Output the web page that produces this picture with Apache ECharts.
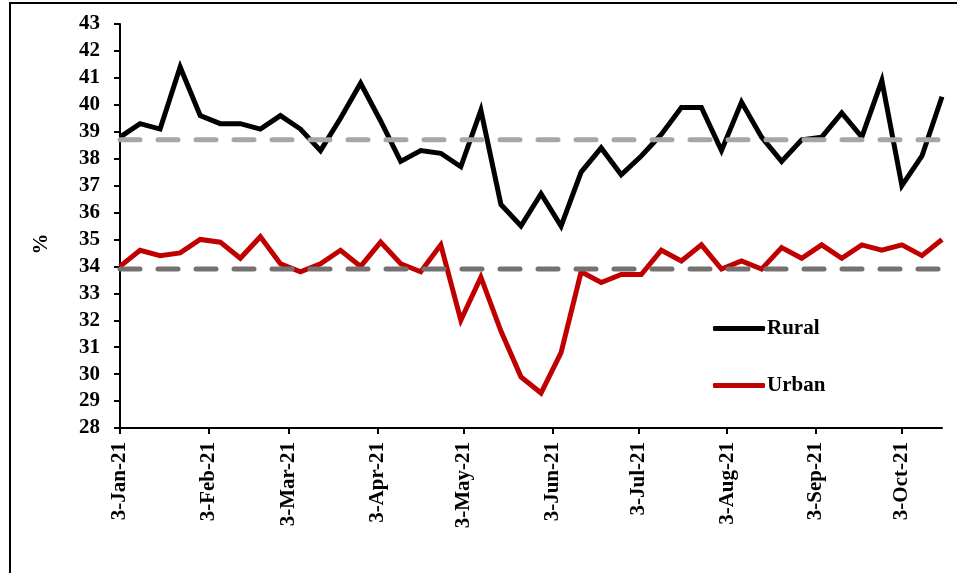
<!DOCTYPE html>
<html>
<head>
<meta charset="utf-8">
<script src="https://cdn.jsdelivr.net/npm/echarts@6/dist/echarts.min.js"></script>
<style>
html,body{margin:0;padding:0;background:#fff;}
#chart{width:957px;height:573px;}
</style>
</head>
<body>
<div id="chart"></div>
<script>
var weeks = ['2021-01-03','2021-01-10','2021-01-17','2021-01-24','2021-01-31',
  '2021-02-07','2021-02-14','2021-02-21','2021-02-28',
  '2021-03-07','2021-03-14','2021-03-21','2021-03-28',
  '2021-04-04','2021-04-11','2021-04-18','2021-04-25',
  '2021-05-02','2021-05-09','2021-05-16','2021-05-23','2021-05-30',
  '2021-06-06','2021-06-13','2021-06-20','2021-06-27',
  '2021-07-04','2021-07-11','2021-07-18','2021-07-25',
  '2021-08-01','2021-08-08','2021-08-15','2021-08-22','2021-08-29',
  '2021-09-05','2021-09-12','2021-09-19','2021-09-26',
  '2021-10-03','2021-10-10','2021-10-17'];
var rural = [38.8,39.3,39.1,41.4,39.6,39.3,39.3,39.1,39.6,39.1,38.3,39.5,40.8,39.4,37.9,38.3,38.2,37.7,39.8,36.3,35.5,36.7,35.5,37.5,38.4,37.4,38.1,38.9,39.9,39.9,38.3,40.1,38.8,37.9,38.7,38.8,39.7,38.8,40.9,37.0,38.1,40.3];
var urban = [34.0,34.6,34.4,34.5,35.0,34.9,34.3,35.1,34.1,33.8,34.1,34.6,34.0,34.9,34.1,33.8,34.8,32.0,33.6,31.6,29.9,29.3,30.8,33.8,33.4,33.7,33.7,34.6,34.2,34.8,33.9,34.2,33.9,34.7,34.3,34.8,34.3,34.8,34.6,34.8,34.4,35.0];
var ruralAvg = 38.7;
var urbanAvg = 33.9;
var tickDates = ['2021-01-03','2021-02-03','2021-03-03','2021-04-03','2021-05-03','2021-06-03','2021-07-03','2021-08-03','2021-09-03','2021-10-03'];
var yTicks = {min: 28, max: 43, step: 1};

var MONTHS = ['Jan','Feb','Mar','Apr','May','Jun','Jul','Aug','Sep','Oct','Nov','Dec'];
function toDay(s){ var p = s.split('-'); return (Date.UTC(+p[0], +p[1]-1, +p[2]) - Date.UTC(2021,0,3)) / 86400000; }
function fmt(d){ var t = new Date(Date.UTC(2021,0,3) + Math.round(d)*86400000); return t.getUTCDate() + '-' + MONTHS[t.getUTCMonth()] + '-' + String(t.getUTCFullYear()).slice(2); }
var xs = weeks.map(toDay);
var xMin = xs[0], xMax = xs[xs.length-1];
var tickVals = tickDates.map(toDay);

var FONT = 'Liberation Serif';
var chart = echarts.init(document.getElementById('chart'));
chart.setOption({
  animation: false,
  graphic: [{type:'rect', shape:{x:10, y:3, width:1200, height:1200}, style:{fill:'none', stroke:'#000', lineWidth:2}, silent:true}],
  grid: {left: 120, right: 15, top: 24, bottom: 145},
  legend: {
    data: [{name:'Rural'}, {name:'Urban'}],
    orient: 'vertical', left: 708, top: 313,
    icon: 'roundRect', itemWidth: 52, itemHeight: 5, itemGap: 36,
    textStyle: {fontFamily: FONT, fontWeight: 'bold', fontSize: 21, color: '#000', padding:[0,0,0,-3]}
  },
  xAxis: {
    type: 'value', min: xMin, max: xMax,
    splitLine: {show:false},
    axisLine: {lineStyle:{color:'#000', width:2}},
    axisTick: {show:true, customValues: tickVals, length: 6, lineStyle:{color:'#000', width:2}},
    axisLabel: {customValues: tickVals, rotate: 90, margin: 14, formatter: function(v){ return fmt(v); },
      fontFamily: FONT, fontWeight: 'bold', fontSize: 21, color: '#000'}
  },
  yAxis: {
    type: 'value', min: yTicks.min, max: yTicks.max, interval: yTicks.step,
    name: '%', nameLocation: 'middle', nameGap: 68, nameRotate: 90,
    nameTextStyle: {fontFamily: FONT, fontWeight: 'bold', fontSize: 21, color: '#000', padding:[0,36,0,0]},
    splitLine: {show:false},
    axisLine: {show:true, lineStyle:{color:'#000', width:2}},
    axisTick: {show:true, length: 6, lineStyle:{color:'#000', width:2}},
    axisLabel: {margin: 20, fontFamily: FONT, fontWeight: 'bold', fontSize: 21, color: '#000'}
  },
  series: [
    {name:'Rural', type:'line', symbol:'none', data: xs.map(function(x,i){return [x, rural[i]];}),
      lineStyle:{color:'#000', width:5, join:'miter'}, itemStyle:{color:'#000'}, z:2},
    {name:'Urban', type:'line', symbol:'none', data: xs.map(function(x,i){return [x, urban[i]];}),
      lineStyle:{color:'#c00000', width:5, join:'miter'}, itemStyle:{color:'#c00000'}, z:2},
    {name:'Rural avg', type:'line', symbol:'none', silent:true, data: [[xMin, ruralAvg],[xMax, ruralAvg]],
      lineStyle:{color:'#a6a6a6', width:5, type:[20,18], cap:'round'}, z:3},
    {name:'Urban avg', type:'line', symbol:'none', silent:true, data: [[xMin, urbanAvg],[xMax, urbanAvg]],
      lineStyle:{color:'#767171', width:5, type:[20,18], cap:'round'}, z:3}
  ]
});
</script>
</body>
</html>
